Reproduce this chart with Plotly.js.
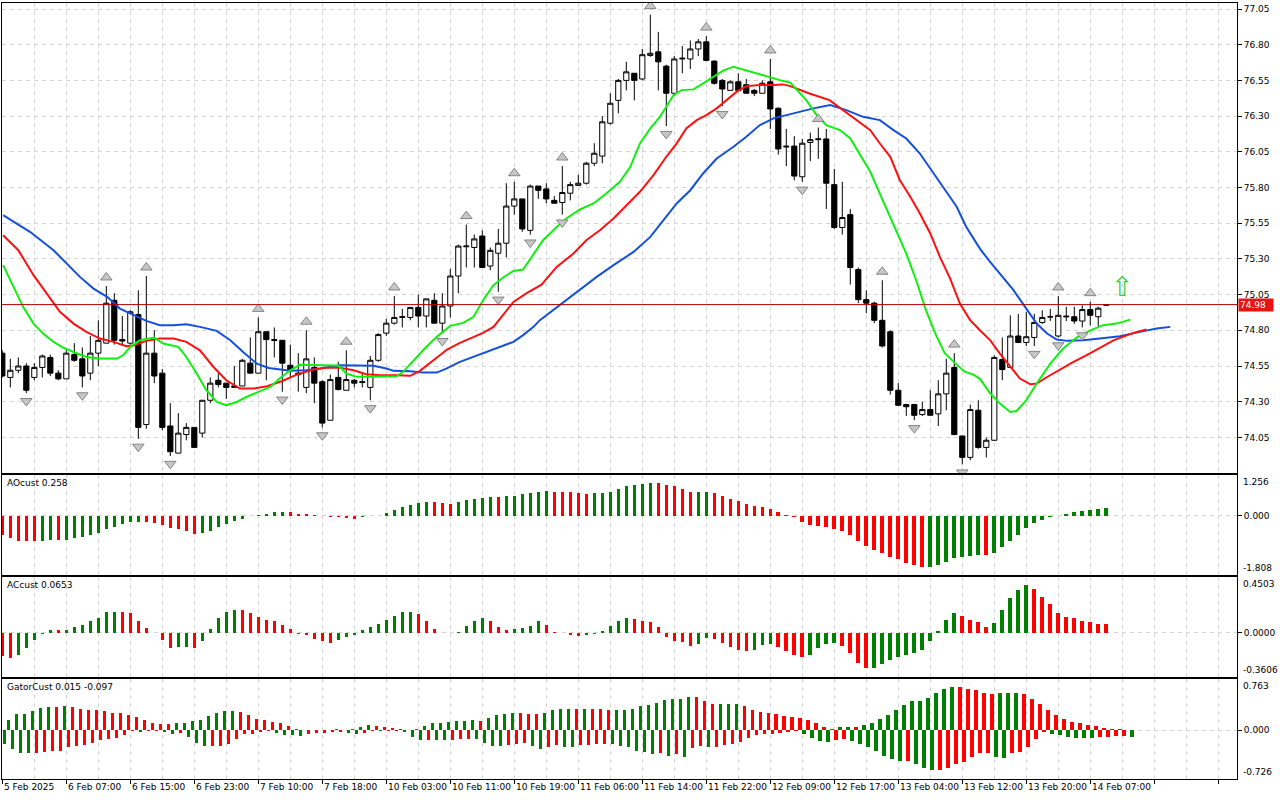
<!DOCTYPE html>
<html><head><meta charset="utf-8">
<script src="https://cdn.plot.ly/plotly-3.0.1.min.js"></script>
<style>html,body{margin:0;padding:0;background:#fff}#chart{width:1280px;height:800px}</style>
</head><body><div id="chart"></div>
<script>
// ---------- DATA ----------
const timeLabels = ["5 Feb 2025","6 Feb 07:00","6 Feb 15:00","6 Feb 23:00","7 Feb 10:00","7 Feb 18:00",
  "10 Feb 03:00","10 Feb 11:00","10 Feb 19:00","11 Feb 06:00","11 Feb 14:00","11 Feb 22:00",
  "12 Feb 09:00","12 Feb 17:00","13 Feb 04:00","13 Feb 12:00","13 Feb 20:00","14 Feb 07:00"];
const labelEvery = 8;

const open = [74.64,74.47,74.52,74.55,74.47,74.54,74.61,74.50,74.46,74.63,
74.60,74.50,74.64,74.71,75.01,74.735,74.71,74.91,74.14,74.64,
74.50,74.13,73.94,74.07,74.12,74.08,74.31,74.45,74.43,74.40,
74.41,74.57,74.50,74.79,74.735,74.73,74.555,74.50,74.40,74.54,
74.44,74.17,74.47,74.38,74.45,74.44,74.40,74.59,74.78,74.85,
74.89,74.89,74.96,74.90,75.01,74.85,74.97,75.18,75.385,75.38,
75.46,75.25,75.34,75.41,75.67,75.72,75.50,75.81,75.79,75.71,
75.695,75.76,75.815,75.83,75.97,76.02,76.25,76.41,76.55,76.60,
76.56,76.725,76.75,76.65,76.46,76.70,76.70,76.77,76.82,76.685,
76.55,76.48,76.54,76.52,76.48,76.46,76.54,76.355,76.09,76.09,
75.875,76.115,76.135,76.14,75.82,75.52,75.61,75.225,75.015,74.99,
74.87,74.79,74.38,74.28,74.28,74.21,74.245,74.215,74.355,74.54,
74.06,73.91,74.24,73.98,74.03,74.595,74.54,74.76,74.715,74.75,
74.855,74.893,74.76,74.90,74.895,74.865,74.945,74.895,74.975];
const high = [74.66,74.60,74.61,74.57,74.57,74.63,74.63,74.52,74.66,74.71,
74.68,74.76,74.87,75.11,75.06,74.90,74.94,75.08,75.18,74.80,
74.53,74.29,74.22,74.15,74.12,74.31,74.47,74.50,74.43,74.55,
74.60,74.75,74.89,74.79,74.82,74.73,74.70,74.64,74.80,74.61,
74.45,74.49,74.58,74.66,74.46,74.50,74.62,74.78,74.88,75.04,
74.95,74.96,75.05,75.02,75.06,75.06,75.23,75.40,75.54,75.47,
75.50,75.38,75.51,75.83,75.84,75.72,75.82,75.81,75.83,75.74,
75.95,75.84,75.89,75.98,76.11,76.30,76.46,76.56,76.68,76.60,
76.77,77.01,76.89,76.66,76.72,76.79,76.83,76.84,76.86,76.69,
76.56,76.55,76.60,76.56,76.49,76.55,76.70,76.36,76.21,76.16,
76.14,76.185,76.22,76.21,75.93,75.84,75.65,75.24,75.08,75.00,
75.15,74.80,74.43,74.285,74.285,74.30,74.38,74.45,74.60,74.64,
74.06,74.28,74.31,74.05,74.625,74.75,74.905,74.915,74.93,74.915,
74.94,74.95,75.04,74.965,74.965,74.975,75.00,74.965,74.98];
const low = [74.47,74.40,74.50,74.36,74.45,74.47,74.48,74.45,74.46,74.58,
74.40,74.45,74.55,74.71,74.70,74.69,74.70,74.04,74.11,74.43,
74.10,73.92,73.94,74.03,73.98,74.05,74.29,74.40,74.32,74.40,
74.41,74.50,74.50,74.45,74.61,74.37,74.47,74.37,74.36,74.29,
74.12,74.17,74.38,74.38,74.40,74.40,74.31,74.58,74.76,74.84,
74.82,74.87,74.82,74.82,74.85,74.78,74.89,75.06,75.24,75.24,
75.24,75.22,75.07,75.31,75.61,75.49,75.47,75.72,75.69,75.69,
75.61,75.71,75.81,75.82,75.95,75.97,76.24,76.32,76.48,76.41,
76.55,76.715,76.48,76.23,76.44,76.60,76.63,76.72,76.69,76.52,
76.37,76.48,76.48,76.46,76.44,76.46,76.21,76.03,75.95,75.85,
75.84,75.985,76.00,75.65,75.51,75.47,75.12,74.99,74.92,74.85,
74.68,74.35,74.27,74.20,74.17,74.20,74.205,74.13,74.24,74.065,
73.86,73.89,73.97,73.91,74.025,74.45,74.54,74.71,74.69,74.69,
74.845,74.865,74.75,74.865,74.845,74.82,74.835,74.825,74.97];
const close = [74.48,74.52,74.55,74.38,74.54,74.62,74.50,74.46,74.64,74.59,
74.48,74.64,74.73,74.99,74.73,74.725,74.93,74.12,74.64,74.48,
74.12,73.95,74.08,74.12,73.98,74.31,74.43,74.42,74.40,74.41,
74.59,74.50,74.79,74.735,74.73,74.57,74.52,74.49,74.60,74.43,
74.15,74.455,74.385,74.455,74.43,74.435,74.59,74.77,74.85,74.89,
74.895,74.96,74.90,75.02,74.85,74.97,75.18,75.39,75.39,75.44,
75.24,75.36,75.41,75.67,75.72,75.51,75.81,75.78,75.72,75.69,
75.765,75.82,75.83,75.97,76.04,76.26,76.39,76.55,76.61,76.55,
76.73,76.74,76.68,76.46,76.70,76.705,76.77,76.82,76.69,76.53,
76.49,76.54,76.48,76.46,76.46,76.53,76.35,76.07,76.085,75.88,
76.11,76.135,76.14,75.83,75.52,75.59,75.24,75.015,74.99,74.87,
74.69,74.38,74.275,74.265,74.205,74.245,74.205,74.355,74.50,74.07,
73.91,74.245,73.98,74.03,74.61,74.525,74.76,74.715,74.755,74.855,
74.89,74.895,74.905,74.895,74.865,74.945,74.905,74.955,74.98];

// Alligator lines: [bar position, price]
const jawLine = [[0.1,75.606],[3.5,75.488],[6.4,75.361],[8.1,75.268],[9.7,75.174],[11.4,75.092],[13.1,75.034],[14.7,74.952],[16.4,74.906],[18,74.866],[19.7,74.835],[21.4,74.835],[23,74.842],[24.7,74.824],[26.8,74.796],[28.5,74.73],[30.1,74.648],[31.8,74.567],[33.3,74.536],[34.7,74.525],[36,74.516],[38,74.52],[39.7,74.532],[42.2,74.555],[44.3,74.555],[46.4,74.551],[48,74.532],[48.9,74.516],[51,74.513],[52.6,74.504],[54.3,74.504],[55.5,74.532],[57.2,74.579],[58.9,74.614],[60.5,74.649],[62.2,74.684],[63.9,74.719],[65.1,74.766],[66.4,74.824],[67.2,74.871],[72.4,75.094],[74.3,75.174],[76.4,75.256],[78.9,75.349],[81,75.454],[82.6,75.571],[84.3,75.688],[86,75.781],[87.6,75.898],[89.3,76.003],[91.4,76.085],[93,76.155],[94.7,76.237],[96.4,76.284],[98,76.307],[99.7,76.33],[101.4,76.354],[103.5,76.377],[105.5,76.342],[107.6,76.295],[109.7,76.272],[111.4,76.202],[113,76.143],[114.7,76.038],[116.4,75.898],[118,75.77],[119.3,75.665],[120.5,75.524],[122.2,75.372],[123.3,75.291],[124.7,75.198],[126.4,75.081],[128,74.952],[129.3,74.847],[130.6,74.777],[131.8,74.735],[133.1,74.726],[135.1,74.73],[137.2,74.742],[139.7,74.758],[142.2,74.789],[144.3,74.812],[146,74.824]];
const teethLine = [[0.1,75.466],[2,75.361],[3.9,75.186],[5.5,75.057],[7.2,74.929],[8.9,74.847],[10.5,74.789],[12.2,74.742],[13.9,74.719],[15.5,74.688],[16.4,74.693],[18,74.726],[19.7,74.742],[21.4,74.742],[23,74.719],[24.7,74.66],[26.4,74.543],[28,74.45],[29.7,74.392],[31.4,74.392],[33.1,74.408],[35,74.445],[36.8,74.49],[38.9,74.525],[40.5,74.537],[42.2,74.537],[43.9,74.52],[45.5,74.492],[47.2,74.485],[49.3,74.485],[51,74.481],[52.2,74.516],[53.9,74.59],[55.6,74.665],[57.2,74.712],[58.9,74.754],[60.1,74.782],[61.4,74.824],[62.6,74.906],[63.9,74.999],[65.5,75.058],[67.4,75.12],[69.3,75.244],[71.4,75.338],[73,75.431],[74.7,75.501],[76.4,75.583],[78,75.676],[79.7,75.77],[81.4,75.887],[83,76.015],[84.3,76.109],[85.5,76.214],[86.8,76.272],[88,76.307],[89.3,76.354],[90.5,76.412],[91.8,76.471],[93,76.51],[94.7,76.517],[96.4,76.517],[97.6,76.522],[98.5,76.51],[100.8,76.46],[103.4,76.412],[105.1,76.342],[106.8,76.272],[108.5,76.202],[109.7,76.108],[111,76.015],[112.2,75.851],[113.5,75.735],[114.7,75.618],[116,75.478],[117.2,75.314],[118.5,75.16],[119.7,74.987],[121,74.87],[122.2,74.8],[123.5,74.73],[124.7,74.637],[126,74.543],[127.2,74.462],[128.5,74.422],[129.3,74.427],[130.6,74.473],[132.2,74.525],[133.9,74.579],[135.5,74.625],[137.2,74.679],[138.9,74.73],[141.4,74.782],[143,74.805]];
const lipsLine = [[0.1,75.256],[1.4,75.104],[2.6,74.964],[3.9,74.847],[5.1,74.777],[6.4,74.719],[7.6,74.679],[8.9,74.648],[10.5,74.613],[12.2,74.602],[14.3,74.602],[15.1,74.625],[16,74.684],[17.2,74.73],[19,74.749],[20.1,74.707],[22,74.684],[23,74.613],[24.3,74.497],[25.5,74.38],[26.8,74.298],[28,74.275],[29.3,74.298],[30.5,74.333],[31.8,74.361],[33.5,74.403],[34.7,74.464],[36,74.52],[37.2,74.558],[38.9,74.558],[40.5,74.558],[42,74.553],[43,74.497],[44.3,74.474],[46,74.474],[47.6,74.474],[49.3,74.478],[50.1,74.509],[51.4,74.59],[52.6,74.66],[54.3,74.754],[56,74.831],[57.6,74.852],[58.9,74.894],[60.1,75.011],[61.4,75.116],[62.6,75.17],[63.9,75.216],[65.1,75.226],[66.4,75.33],[67.6,75.431],[69.3,75.524],[70.5,75.583],[72.2,75.646],[73.9,75.688],[75.5,75.758],[77.2,75.84],[78.5,75.945],[79.7,76.109],[81,76.214],[82.2,76.295],[83,76.366],[83.9,76.447],[84.9,76.482],[86.4,76.487],[87.6,76.529],[88.9,76.576],[90.1,76.618],[91.4,76.646],[92.2,76.634],[93.9,76.604],[95.5,76.58],[97.2,76.552],[98.5,76.534],[100.5,76.412],[101.8,76.307],[103,76.237],[104.7,76.202],[106,76.143],[107.2,76.027],[108.5,75.91],[109.5,75.781],[110.6,75.641],[111.8,75.489],[113,75.337],[114.3,75.14],[115.4,74.95],[116.6,74.78],[117.8,74.64],[119.1,74.57],[120.3,74.51],[121.4,74.49],[122.2,74.46],[123.5,74.357],[124.7,74.287],[126,74.228],[126.8,74.235],[128,74.31],[129.3,74.427],[131,74.567],[132.6,74.672],[134.3,74.749],[136,74.80],[137.6,74.836],[139.3,74.847],[141,74.875]];

const fractalUpBars = [13,18,32,38,43,49,58,64,70,81,88,96,102,110,119,132,136];
const fractalDownBars = [3,10,17,21,35,40,46,55,62,66,70,83,90,100,114,120,129,132,135];
const signalBars = [140];
const signalPrices = [75.09];

const ao = [-0.573,-0.677,-0.76,-0.762,-0.765,-0.755,-0.729,-0.732,-0.725,-0.688,
-0.646,-0.583,-0.52,-0.396,-0.333,-0.24,-0.177,-0.172,-0.18,-0.208,
-0.271,-0.375,-0.406,-0.458,-0.552,-0.52,-0.458,-0.333,-0.26,-0.146,
-0.083,-0.01,0.03,0.05,0.12,0.13,0.12,0.07,0.05,0.02,
0.005,-0.04,-0.045,-0.05,-0.08,-0.04,-0.01,0.01,0.09,0.19,
0.29,0.35,0.41,0.42,0.415,0.385,0.38,0.417,0.479,0.51,
0.563,0.594,0.59,0.6,0.625,0.667,0.698,0.75,0.755,0.73,
0.728,0.725,0.698,0.667,0.698,0.70,0.75,0.8125,0.906,0.9375,
0.979,1.02,1.01,0.9375,0.906,0.83,0.74,0.745,0.75,0.70,
0.625,0.53,0.47,0.375,0.3125,0.28,0.219,0.125,0.02,-0.04,
-0.177,-0.27,-0.30,-0.333,-0.396,-0.458,-0.583,-0.77,-0.927,-1.052,
-1.146,-1.27,-1.333,-1.427,-1.49,-1.56,-1.55,-1.49,-1.396,-1.30,
-1.27,-1.24,-1.20,-1.21,-1.146,-0.958,-0.77,-0.583,-0.365,-0.208,
-0.115,-0.02,-0.01,0.0625,0.125,0.156,0.198,0.219,0.258];
const ac = [-0.191,-0.205,-0.183,-0.126,-0.06,-0.008,0.022,0.02,0.023,0.046,
0.063,0.09,0.12,0.169,0.17,0.168,0.161,0.096,0.038,-0.005,
-0.06,-0.126,-0.117,-0.115,-0.126,-0.066,0.027,0.12,0.164,0.186,
0.185,0.156,0.128,0.104,0.096,0.063,0.03,-0.011,-0.019,-0.049,
-0.068,-0.082,-0.057,-0.033,-0.016,0.022,0.046,0.071,0.104,0.137,
0.164,0.169,0.148,0.09,0.03,-0.003,-0.005,0.005,0.055,0.09,
0.115,0.096,0.046,0.022,0.03,0.038,0.055,0.09,0.063,0.005,
-0.002,-0.016,-0.025,-0.02,-0.008,0.014,0.055,0.096,0.12,0.112,
0.096,0.087,0.046,-0.033,-0.066,-0.077,-0.109,-0.096,-0.044,-0.055,
-0.085,-0.117,-0.142,-0.150,-0.142,-0.101,-0.093,-0.117,-0.150,-0.183,
-0.199,-0.183,-0.126,-0.093,-0.085,-0.107,-0.169,-0.251,-0.287,-0.285,
-0.254,-0.221,-0.2,-0.183,-0.164,-0.139,-0.066,0.014,0.104,0.161,
0.137,0.104,0.087,0.046,0.074,0.186,0.276,0.342,0.383,0.35,
0.292,0.23,0.161,0.128,0.12,0.096,0.087,0.071,0.0653];
const gatorUpper = [0.142,0.152,0.239,0.244,0.289,0.335,0.352,0.350,0.355,0.352,
0.315,0.305,0.30,0.284,0.254,0.25,0.234,0.193,0.152,0.102,
0.091,0.089,0.102,0.112,0.142,0.152,0.213,0.264,0.289,0.292,
0.269,0.228,0.162,0.152,0.117,0.102,0.061,0.025,0.010,0.006,
0.004,0.003,0.012,0.008,0.012,0.041,0.076,0.061,0.041,0.036,
0.025,0.01,0.025,0.061,0.102,0.104,0.122,0.142,0.144,0.146,
0.143,0.183,0.228,0.244,0.264,0.262,0.244,0.24,0.25,0.30,
0.315,0.32,0.318,0.322,0.318,0.316,0.305,0.306,0.307,0.32,
0.355,0.38,0.406,0.457,0.46,0.472,0.492,0.49,0.442,0.391,
0.392,0.393,0.394,0.355,0.305,0.269,0.254,0.239,0.218,0.203,
0.178,0.152,0.112,0.051,0.015,0.051,0.052,0.048,0.071,0.102,
0.168,0.228,0.305,0.381,0.431,0.442,0.482,0.548,0.609,0.645,
0.643,0.619,0.594,0.558,0.533,0.548,0.558,0.56,0.533,0.472,
0.396,0.305,0.234,0.162,0.127,0.102,0.076,0.061,0.036,0.02,
0.019,0.008,0.004,0.01];
const gatorLower = [0.203,0.279,0.34,0.342,0.338,0.32,0.315,0.305,0.254,0.228,
0.218,0.193,0.152,0.127,0.112,0.076,0.01,0.025,0.012,0.01,
0.025,0.061,0.041,0.102,0.193,0.239,0.238,0.228,0.203,0.137,
0.061,0.051,0.025,0.012,0.041,0.066,0.076,0.081,0.061,0.041,
0.036,0.03,0.025,0.041,0.061,0.036,0.01,0.012,0.008,0.006,
0.025,0.102,0.152,0.142,0.145,0.152,0.150,0.137,0.132,0.137,
0.188,0.239,0.24,0.213,0.21,0.188,0.228,0.279,0.244,0.218,
0.254,0.256,0.218,0.216,0.203,0.2,0.205,0.239,0.254,0.305,
0.33,0.355,0.345,0.381,0.355,0.396,0.264,0.228,0.254,0.25,
0.218,0.203,0.178,0.117,0.076,0.061,0.051,0.036,0.025,0.015,
0.051,0.112,0.162,0.178,0.142,0.127,0.162,0.203,0.254,0.305,
0.381,0.431,0.457,0.455,0.497,0.569,0.599,0.597,0.569,0.508,
0.467,0.396,0.345,0.343,0.396,0.406,0.345,0.33,0.254,0.127,
0.025,0.061,0.076,0.102,0.112,0.113,0.114,0.102,0.097,0.09,
0.089,0.1];

const aoScale = [-1.808, 1.256];
const acScale = [-0.3606, 0.4503];
const gatorScale = [-0.726, 0.763];
const priceTick0 = 74.05, priceStep = 0.25;
const priceRange = [73.8007, 77.092];
const gatorTitleValues = [0.015, -0.097];

// ---------- STYLE ----------
const GREEN = '#008000', RED = '#ff0000', GRID = '#d4d4d4';
const FONT = {family: 'DejaVu Sans, sans-serif', size: 9, color: '#000'};
const idx = n => Array.from({length: n}, (_, i) => i);
const dirColors = (v, first) => v.map((x, i) => i === 0 ? first : (x > v[i - 1] ? GREEN : RED));
const barW = 0.45;
const fractalMarker = sym => ({symbol: sym, size: 10, color: '#c6c6c6', line: {color: '#858585', width: 1}});

const traces = [
  {type: 'candlestick', x: idx(open.length), open, high, low, close, xaxis: 'x', yaxis: 'y',
   increasing: {line: {color: '#000', width: 1}, fillcolor: '#fff'},
   decreasing: {line: {color: '#000', width: 1}, fillcolor: '#000'},
   whiskerwidth: 0, hoverinfo: 'skip', showlegend: false},
  {type: 'scatter', mode: 'lines', x: jawLine.map(p => p[0]), y: jawLine.map(p => p[1]),
   line: {color: '#1450dc', width: 2}, xaxis: 'x', yaxis: 'y', hoverinfo: 'skip', showlegend: false},
  {type: 'scatter', mode: 'lines', x: teethLine.map(p => p[0]), y: teethLine.map(p => p[1]),
   line: {color: '#ff1010', width: 2}, xaxis: 'x', yaxis: 'y', hoverinfo: 'skip', showlegend: false},
  {type: 'scatter', mode: 'lines', x: lipsLine.map(p => p[0]), y: lipsLine.map(p => p[1]),
   line: {color: '#10f010', width: 2}, xaxis: 'x', yaxis: 'y', hoverinfo: 'skip', showlegend: false},
  {type: 'scatter', mode: 'markers', x: fractalUpBars, y: fractalUpBars.map(i => high[i] + 0.06),
   marker: fractalMarker('triangle-up'), xaxis: 'x', yaxis: 'y', hoverinfo: 'skip', showlegend: false},
  {type: 'scatter', mode: 'markers', x: fractalDownBars, y: fractalDownBars.map(i => low[i] - 0.055),
   marker: fractalMarker('triangle-down'), xaxis: 'x', yaxis: 'y', hoverinfo: 'skip', showlegend: false},
  {type: 'scatter', mode: 'text', x: signalBars, y: signalPrices, text: signalBars.map(() => '\u21E7'),
   textfont: {family: 'DejaVu Sans', size: 27, color: '#3ccf3c'}, textposition: 'middle center',
   xaxis: 'x', yaxis: 'y', hoverinfo: 'skip', showlegend: false},
  {type: 'bar', x: idx(ao.length), y: ao, width: barW, marker: {color: dirColors(ao, RED), line: {width: 0}},
   xaxis: 'x2', yaxis: 'y2', hoverinfo: 'skip', showlegend: false},
  {type: 'bar', x: idx(ac.length), y: ac, width: barW, marker: {color: dirColors(ac, RED), line: {width: 0}},
   xaxis: 'x3', yaxis: 'y3', hoverinfo: 'skip', showlegend: false},
  {type: 'bar', x: idx(gatorUpper.length), y: gatorUpper, width: barW, marker: {color: dirColors(gatorUpper, GREEN), line: {width: 0}},
   xaxis: 'x4', yaxis: 'y4', hoverinfo: 'skip', showlegend: false},
  {type: 'bar', x: idx(gatorLower.length), y: gatorLower.map(v => -v), width: barW, marker: {color: dirColors(gatorLower, GREEN), line: {width: 0}},
   xaxis: 'x4', yaxis: 'y4', hoverinfo: 'skip', showlegend: false}
];

const xRange = [-0.04, 154.34];
function xAxis(anchor, extra) {
  return Object.assign({
    type: 'linear', anchor, range: xRange, tick0: 0, dtick: labelEvery,
    showgrid: true, gridcolor: GRID, griddash: '4px,4px', gridwidth: 1,
    minor: {tick0: 0, dtick: labelEvery / 2, showgrid: true, gridcolor: GRID, griddash: '4px,4px', gridwidth: 1},
    showline: true, mirror: true, linecolor: '#000', linewidth: 1, zeroline: false,
    showticklabels: false, ticks: '', fixedrange: true
  }, extra || {});
}
function subY(domain, range, zeroText) {
  return {domain, range, side: 'right', tickvals: [0], ticktext: [zeroText],
    showgrid: true, gridcolor: GRID, griddash: '4px,4px', zeroline: false,
    showline: true, mirror: true, linecolor: '#000', linewidth: 1,
    ticks: 'outside', ticklen: 4, tickcolor: '#000', tickfont: FONT, fixedrange: true};
}

const annotations = [];
timeLabels.forEach((t, k) => annotations.push({xref: 'x4', yref: 'paper', x: k * labelEvery, y: 0,
  xanchor: 'left', yanchor: 'top', xshift: 0, yshift: -1, text: t, showarrow: false, font: FONT}));
function edgeLabels(yref, scale, dec) {
  annotations.push({xref: 'paper', x: 1, xanchor: 'left', xshift: 4, yref: yref + ' domain', y: 1, yanchor: 'top',
    text: scale[1].toFixed(dec), showarrow: false, font: FONT});
  annotations.push({xref: 'paper', x: 1, xanchor: 'left', xshift: 4, yref: yref + ' domain', y: 0, yanchor: 'bottom',
    text: scale[0].toFixed(dec), showarrow: false, font: FONT});
}
edgeLabels('y2', aoScale, 3);
edgeLabels('y3', acScale, 4);
edgeLabels('y4', gatorScale, 3);
function panelTitle(yref, text) {
  annotations.push({xref: 'paper', x: 0, xanchor: 'left', xshift: 3, yref: yref + ' domain', y: 1, yanchor: 'top', yshift: -1,
    text, showarrow: false, font: FONT});
}
panelTitle('y2', 'AOcust ' + ao[ao.length - 1].toFixed(3));
panelTitle('y3', 'ACcust ' + ac[ac.length - 1].toFixed(4));
panelTitle('y4', 'GatorCust ' + gatorTitleValues[0].toFixed(3) + ' ' + gatorTitleValues[1].toFixed(3));
const lastPrice = close[close.length - 1];
annotations.push({xref: 'paper', x: 1, xanchor: 'left', xshift: 1, yref: 'y', y: lastPrice, yanchor: 'middle',
  text: lastPrice.toFixed(2) + '&nbsp;&nbsp;', showarrow: false, bgcolor: '#e81414', borderpad: 1,
  font: {family: FONT.family, size: 9, color: '#fff'}});

const layout = {
  width: 1280, height: 800, margin: {l: 2, r: 43, t: 3, b: 21},
  paper_bgcolor: '#fff', plot_bgcolor: '#fff', showlegend: false, font: FONT,
  boxgap: 0.35, boxgroupgap: 0, bargap: 0,
  xaxis: xAxis('y', {rangeslider: {visible: false}}),
  xaxis2: xAxis('y2'),
  xaxis3: xAxis('y3'),
  xaxis4: xAxis('y4', {ticks: 'outside', ticklen: 4, tickcolor: '#000'}),
  yaxis: {domain: [0.39433, 1], range: priceRange, side: 'right', tick0: priceTick0, dtick: priceStep,
    tickformat: '.2f', showgrid: true, gridcolor: GRID, griddash: '4px,4px', zeroline: false,
    showline: true, mirror: true, linecolor: '#000', linewidth: 1, ticks: 'outside', ticklen: 4,
    tickcolor: '#000', tickfont: FONT, fixedrange: true},
  yaxis2: subY([0.26289, 0.39175], aoScale, '0.000'),
  yaxis3: subY([0.13144, 0.26031], acScale, '0.0000'),
  yaxis4: subY([0, 0.12887], gatorScale, '0.000'),
  shapes: [{type: 'line', xref: 'x domain', x0: 0, x1: 1, yref: 'y', y0: lastPrice, y1: lastPrice,
    line: {color: '#b00000', width: 1}, layer: 'above'}],
  annotations
};
Plotly.newPlot('chart', traces, layout, {staticPlot: true, displayModeBar: false});
</script>
</body></html>
